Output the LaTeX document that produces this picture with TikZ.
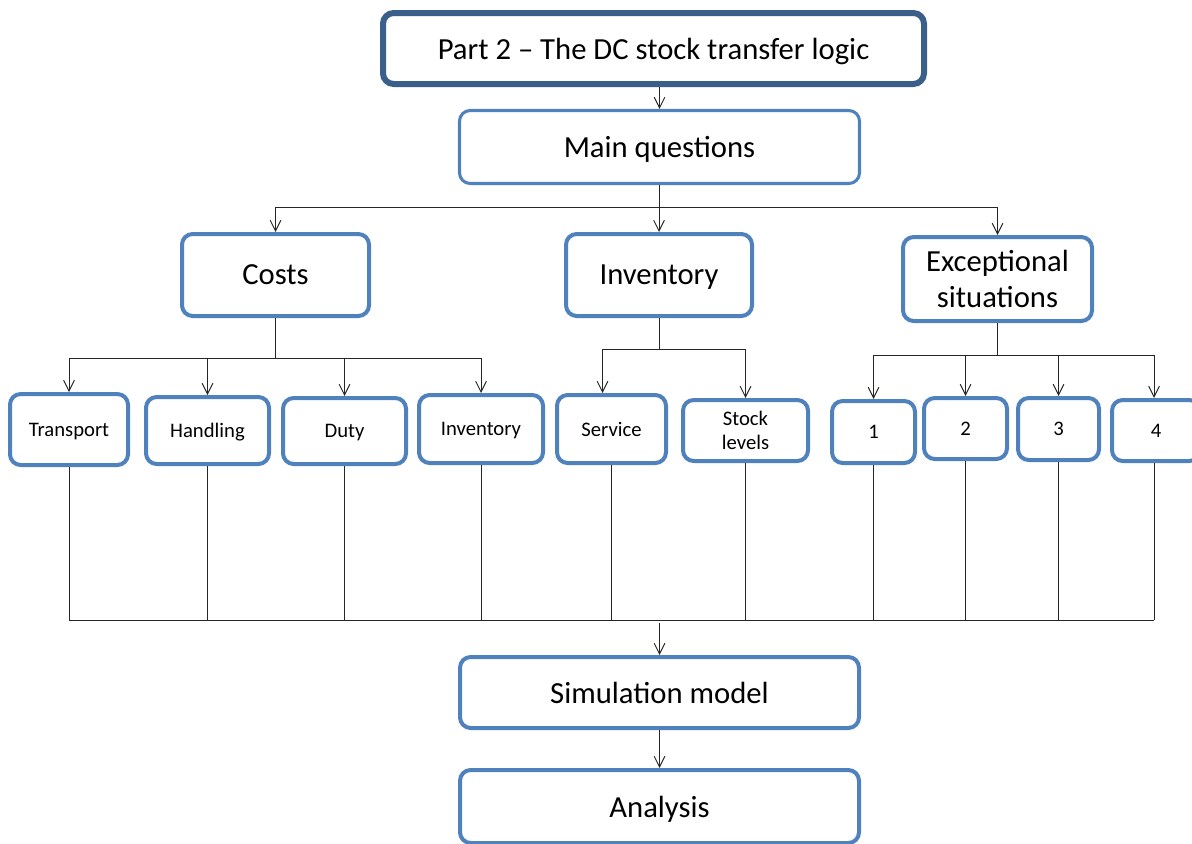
\documentclass[tikz,border=0pt]{standalone}
\usepackage{fontspec}
\setmainfont{Carlito}
\usetikzlibrary{arrows.meta,calc}
\definecolor{boxblue}{HTML}{4F81BD}
\definecolor{darkblue}{HTML}{3A5F8B}
\tikzset{
  box/.style={draw=boxblue, line width=3pt, rounded corners=8pt, fill=white,
              inner sep=0pt, align=center, font=\fontsize{23}{26}\selectfont},
  smallbox/.style={box, font=\fontsize{15.5}{18}\selectfont},
  topbox/.style={box, draw=darkblue, line width=4.5pt},
  mainbox/.style={box, line width=2.3pt},
  one/.style={text depth=0pt},
  sz/.style 2 args={minimum width=#1*0.75pt, minimum height=#2*0.75pt},
  link/.style={draw=black!85, line width=0.75pt},
  arr/.style={link, -{Straight Barb[length=8pt,width=8pt]}}
}
\begin{document}
\begin{tikzpicture}[x=0.75pt,y=-0.75pt]
\useasboundingbox (0,0) rectangle (1192,843);
\clip (0,0) rectangle (1192,843);

% top level
\node[topbox, one, sz={541}{71}] (part) at (653.5,48.5) {Part 2 -- The DC stock transfer logic};
\node[mainbox, one, sz={400}{73}] (mq) at (659.5,147) {Main questions};

% question groups
\node[box, one, sz={187}{82}] (costs) at (275.5,275) {Costs};
\node[box, one, sz={186}{82}] (inv) at (659,275) {Inventory};
\node[box, sz={189}{84}, font=\fontsize{23}{27.5}\selectfont] (exc) at (997.5,279) {Exceptional\\situations};

% cost items
\node[smallbox, one, sz={118}{71}] (tr) at (69,429.5) {Transport};
\node[smallbox, one, sz={123}{67}] (ha) at (207.5,430.5) {Handling};
\node[smallbox, one, sz={123}{66}] (du) at (344.5,431) {Duty};
\node[smallbox, one, sz={124}{68}] (iv) at (481,429) {Inventory};

% inventory items
\node[smallbox, one, sz={109}{68}] (se) at (611.5,429) {Service};
\node[smallbox, sz={125}{61}] (st) at (745.5,430.5) {Stock\\levels};

% exceptional situations
\node[smallbox, one, sz={83}{62}] (n1) at (873.5,432) {1};
\node[smallbox, one, sz={83}{61}] (n2) at (965.5,428.5) {2};
\node[smallbox, one, sz={81}{62}] (n3) at (1058.5,429) {3};
\node[smallbox, one, sz={88}{61}] (n4) at (1156,430.5) {4};

% result chain
\node[box, one, sz={399}{71}] (sim) at (659.5,692.5) {Simulation model};
\node[box, one, sz={399}{73}] (an) at (659.5,806.5) {Analysis};

% bus levels
\coordinate (b1) at (0,207);
\coordinate (bc) at (0,358);
\coordinate (bi) at (0,349);
\coordinate (be) at (0,355);
\coordinate (bb) at (0,620);

% part -> main questions
\draw[arr] (mq.north |- part.south) -- (mq.north);

% main questions -> groups
\draw[link] (mq.south) -- (mq.south |- b1);
\draw[link] (costs.north |- b1) -- (exc.north |- b1);
\foreach \n in {costs,inv,exc}
  \draw[arr] (\n.north |- b1) -- (\n.north);

% costs -> items
\draw[link] (costs.south) -- (costs.south |- bc);
\draw[link] (tr.north |- bc) -- (iv.north |- bc);
\foreach \n in {tr,ha,du,iv}
  \draw[arr] (\n.north |- bc) -- (\n.north);

% inventory -> items
\draw[link] (inv.south) -- (inv.south |- bi);
\coordinate (sen) at ($(se.north)+(-9,0)$);
\draw[link] (sen |- bi) -- (st.north |- bi);
\draw[arr] (sen |- bi) -- (sen);
\draw[arr] (st.north |- bi) -- (st.north);

% exceptional -> items
\draw[link] (exc.south) -- (exc.south |- be);
\coordinate (n4n) at ($(n4.north)+(-2,0)$);
\draw[link] (n1.north |- be) -- (n4n |- be);
\foreach \n in {n1,n2,n3}
  \draw[arr] (\n.north |- be) -- (\n.north);
\draw[arr] (n4n |- be) -- (n4n);

% all items -> simulation model
\foreach \n in {tr,ha,du,iv,se,st,n1,n2,n3}
  \draw[link] (\n.south) -- (\n.south |- bb);
\coordinate (n4s) at ($(n4.south)+(-2,0)$);
\draw[link] (n4s) -- (n4s |- bb);
\draw[link] (tr.south |- bb) -- (n4s |- bb);
\draw[arr] ($(sim.north |- bb)+(0,3)$) -- (sim.north);

% simulation model -> analysis
\draw[arr] (sim.south) -- (an.north);
\end{tikzpicture}
\end{document}
